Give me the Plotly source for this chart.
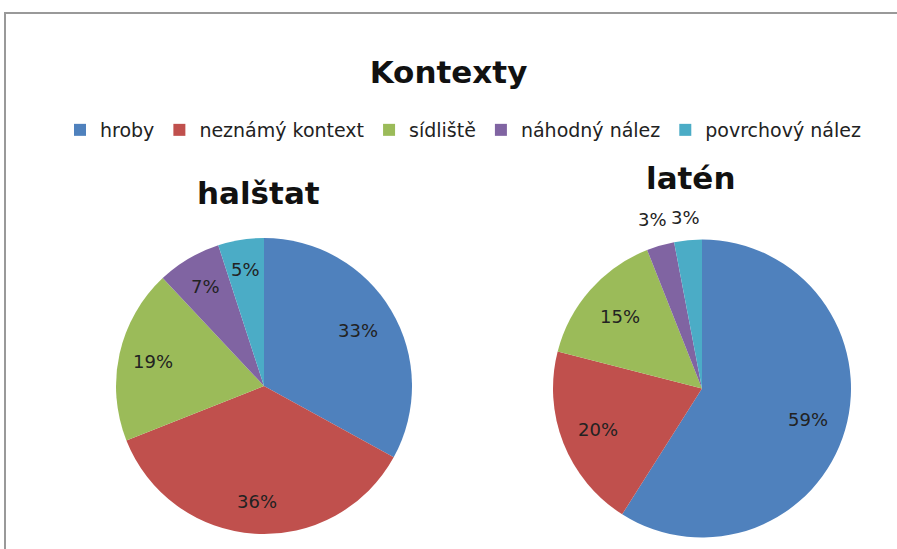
import math
import plotly.graph_objects as go

categories = ["hroby", "neznámý kontext", "sídliště", "náhodný nález", "povrchový nález"]
halstat_values = [33, 36, 19, 7, 5]
laten_values = [59, 20, 15, 3, 3]
colors = ["#4F81BD", "#C0504D", "#9BBB59", "#8064A2", "#4BACC6"]
W, H = 897, 549
FONT = "DejaVu Sans, sans-serif"

# pie geometry (pixel boxes)
pies = [
    dict(name="halštat", values=halstat_values, box=(116, 412, 237, 535),
         radial=[0.74, 0.78, 0.77, 0.78, 0.80]),
    dict(name="latén", values=laten_values, box=(553, 851, 237, 540),
         radial=[0.74, 0.75, 0.73, 1.18, 1.15]),
]

fig = go.Figure()
annotations = []
for i, p in enumerate(pies):
    x0, x1, y0, y1 = p["box"]
    fig.add_trace(go.Pie(
        labels=categories, values=p["values"], sort=False, direction="clockwise", rotation=0,
        marker=dict(colors=colors, line=dict(color="white", width=0)),
        textinfo="none",
        domain=dict(x=[x0 / W, x1 / W], y=[1 - y1 / H, 1 - y0 / H]),
        hoverinfo="label+percent", name=p["name"], showlegend=(i == 0),
    ))
    cx, cy = (x0 + x1) / 2, (y0 + y1) / 2
    R = min(x1 - x0, y1 - y0) / 2
    total = sum(p["values"])
    cum = 0
    for v, f in zip(p["values"], p["radial"]):
        theta = 2 * math.pi * (cum + v / 2) / total
        cum += v
        px = cx + f * R * math.sin(theta)
        py = cy - f * R * math.cos(theta)
        annotations.append(dict(
            text=f"{round(100 * v / total)}%", x=px / W, y=1 - py / H, xref="paper", yref="paper",
            showarrow=False, xanchor="center", yanchor="middle",
            font=dict(family=FONT, size=18, color="#222")))

annotations += [
    dict(text="<b>halštat</b>", x=258 / W, y=1 - 193 / H, xref="paper", yref="paper",
         showarrow=False, font=dict(family=FONT, size=31, color="#111"), xanchor="center", yanchor="middle"),
    dict(text="<b>latén</b>", x=690 / W, y=1 - 178 / H, xref="paper", yref="paper",
         showarrow=False, font=dict(family=FONT, size=31, color="#111"), xanchor="center", yanchor="middle"),
]

fig.update_layout(
    width=W, height=H,
    margin=dict(l=0, r=0, t=0, b=0),
    paper_bgcolor="white", plot_bgcolor="white",
    font=dict(family=FONT, color="#222"),
    title=dict(text="<b>Kontexty</b>", x=0.5, xanchor="center", y=1 - 72 / H, yanchor="middle",
               font=dict(family=FONT, size=31, color="#111")),
    legend=dict(orientation="h", x=463 / W, xanchor="center", y=1 - 130 / H, yanchor="middle",
                font=dict(family=FONT, size=19, color="#222"), itemwidth=30, traceorder="normal"),
    annotations=annotations,
    shapes=[dict(type="rect", xref="paper", yref="paper", x0=5 / W, x1=1.05, y0=-0.05, y1=1 - 13 / H,
                 line=dict(color="#999", width=2), layer="below")],
)

fig.write_html("out.html", config={"displayModeBar": False},
               post_script="document.body.style.margin='0';document.body.style.overflow='hidden';")
